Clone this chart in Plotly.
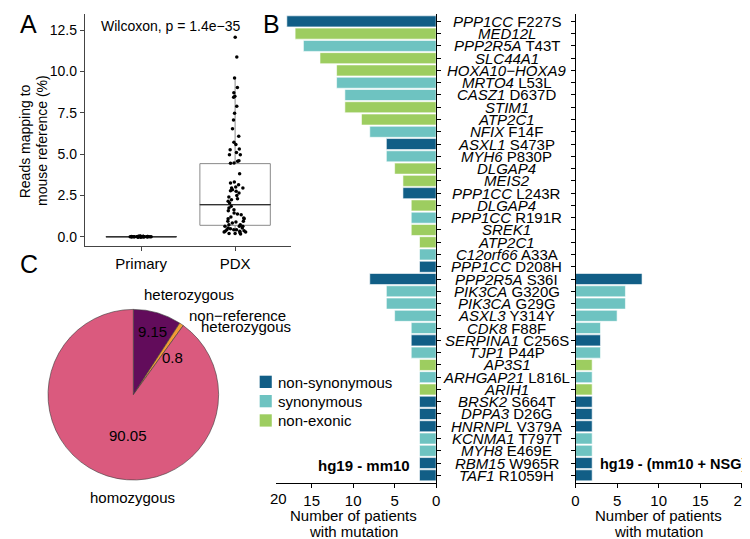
import plotly.graph_objects as go

W, H = 750, 539
FONT = "Liberation Sans, Arial, sans-serif"

# ---------------- Panel A data ----------------
groups = ["Primary", "PDX"]
primary_pct = [0.0, 0.01, 0.0, 0.02, 0.0, 0.01, 0.0, 0.0, 0.03, 0.01, 0.0, 0.02,
               0.0, 0.01, 0.0, 0.0, 0.01, 0.02, 0.0, 0.01, 0.0, 0.0, 0.02, 0.01,
               0.0, 0.01, 0.0, 0.03, 0.0, 0.01, 0.0, 0.02, 0.0, 0.01, 0.0, 0.0,
               0.01, 0.0, 0.02, 0.0, 0.01, 0.0, 0.0, 0.01, 0.02, 0.0, 0.01, 0.0]
pdx_pct = [12.06, 10.87, 9.6, 9.03, 8.5, 8.43, 8.71, 7.89, 7.46, 7.06, 6.53, 6.07,
           5.71, 5.57, 5.1, 5.26, 5.3, 4.96, 4.96, 4.56, 4.46, 4.6, 4.44, 3.81,
           3.25, 3.15, 3.0, 2.95, 2.95, 2.84, 2.78, 2.75, 2.64, 2.5, 2.4, 2.3,
           2.14, 2.04, 1.84, 1.74, 1.63, 1.57, 1.43, 1.37, 1.19, 1.13, 1.09, 1.09,
           0.93, 0.89, 0.93, 0.73, 0.73, 0.63, 0.63, 0.63, 0.53, 0.53, 0.42, 0.42,
           0.42, 0.48, 0.28, 0.33, 0.33, 0.28, 0.2, 0.16, 0.2, 0.24, 0.36, 0.83,
           1.33, 2.24, 3.31]
box_q1 = [0.0, 0.69]
box_median = [0.0, 1.94]
box_q3 = [0.0, 4.42]
box_lower = [0.0, 0.16]
box_upper = [0.0, 9.6]
a_yticks = [0.0, 2.5, 5.0, 7.5, 10.0, 12.5]
wilcoxon_label = "Wilcoxon, p = 1.4e\u221235"

# ---------------- Panel B data ----------------
genes = ["PPP1CC", "MED12L", "PPP2R5A", "SLC44A1", "HOXA10\u2212HOXA9", "MRTO4",
         "CASZ1", "STIM1", "ATP2C1", "NFIX", "ASXL1", "MYH6", "DLGAP4", "MEIS2",
         "PPP1CC", "DLGAP4", "PPP1CC", "SREK1", "ATP2C1", "C12orf66", "PPP1CC",
         "PPP2R5A", "PIK3CA", "PIK3CA", "ASXL3", "CDK8", "SERPINA1", "TJP1",
         "AP3S1", "ARHGAP21", "ARIH1", "BRSK2", "DPPA3", "HNRNPL", "KCNMA1",
         "MYH8", "RBM15", "TAF1"]
mutations = ["F227S", "", "T43T", "", "", "L53L", "D637D", "", "", "F14F", "S473P",
             "P830P", "", "", "L243R", "", "R191R", "", "", "A33A", "D208H", "S36I",
             "G320G", "G29G", "Y314Y", "F88F", "C256S", "P44P", "", "L816L", "",
             "S664T", "D26G", "V379A", "T797T", "E469E", "W965R", "R1059H"]
mut_type = ["non-synonymous", "non-exonic", "synonymous", "non-exonic", "non-exonic",
            "synonymous", "synonymous", "non-exonic", "non-exonic", "synonymous",
            "non-synonymous", "synonymous", "non-exonic", "non-exonic", "non-synonymous",
            "non-exonic", "synonymous", "non-exonic", "non-exonic", "synonymous",
            "non-synonymous", "non-synonymous", "synonymous", "synonymous", "synonymous",
            "synonymous", "non-synonymous", "synonymous", "non-exonic", "synonymous",
            "non-exonic", "non-synonymous", "non-synonymous", "non-synonymous",
            "synonymous", "synonymous", "non-synonymous", "non-synonymous"]
n_hg19_mm10 = [18, 17, 16, 14, 12, 12, 11, 11, 9, 8, 6, 6, 5, 4, 4, 3, 3, 3, 2, 2, 2,
               8, 6, 6, 5, 3, 3, 3, 2, 2, 2, 2, 2, 2, 2, 2, 2, 2]
n_hg19_mm10_nsg = [0, 0, 0, 0, 0, 0, 0, 0, 0, 0, 0, 0, 0, 0, 0, 0, 0, 0, 0, 0, 0,
                   8, 6, 6, 5, 3, 3, 3, 2, 2, 2, 2, 2, 2, 2, 2, 2, 2]
type_order = ["non-synonymous", "synonymous", "non-exonic"]
type_colors = {"non-synonymous": "#115E86", "synonymous": "#6EC3C1", "non-exonic": "#9DCD60"}
b_ticks_left = [0, 5, 10, 15]
b_ticks_right = [0, 5, 10, 15, 20]

# ---------------- Panel C data ----------------
geno_labels = ["heterozygous", "non\u2212reference heterozygous", "homozygous"]
geno_pct = [9.15, 0.8, 90.05]
geno_colors = ["#620C5B", "#F29B35", "#DA5A7E"]


def px(x):
    return x / W


def py(y):
    return 1 - y / H


fig = go.Figure()

# ---- Panel A: boxes ----
fig.add_trace(go.Box(
    x=groups, q1=box_q1, median=box_median, q3=box_q3,
    lowerfence=box_lower, upperfence=box_upper,
    boxpoints=False, width=0.75, whiskerwidth=0,
    fillcolor="rgba(0,0,0,0)", line=dict(color="#8a8a8a", width=1),
    xaxis="x", yaxis="y", hoverinfo="skip", showlegend=False))
# darker median line
fig.add_trace(go.Box(
    x=groups, q1=box_median, median=box_median, q3=box_median,
    lowerfence=box_median, upperfence=box_median,
    boxpoints=False, width=0.75, whiskerwidth=0,
    fillcolor="rgba(0,0,0,0)", line=dict(color="#333333", width=1),
    xaxis="x", yaxis="y", hoverinfo="skip", showlegend=False))
# jittered points
fig.add_trace(go.Box(
    x=[groups[0]] * len(primary_pct) + [groups[1]] * len(pdx_pct),
    y=primary_pct + pdx_pct,
    boxpoints="all", jitter=0.32, pointpos=0, width=0.75, whiskerwidth=0,
    fillcolor="rgba(0,0,0,0)", line=dict(color="rgba(0,0,0,0)", width=0),
    marker=dict(color="black", size=3.5),
    xaxis="x", yaxis="y", hoverinfo="skip", showlegend=False))

# ---- Panel B: bars ----
bar_colors = [type_colors[t] for t in mut_type]
rows = list(range(len(genes)))
fig.add_trace(go.Bar(
    x=n_hg19_mm10, y=rows, orientation="h",
    marker=dict(color=bar_colors, line=dict(color="white", width=0.6)),
    xaxis="x2", yaxis="y2", hoverinfo="skip", showlegend=False))
fig.add_trace(go.Bar(
    x=n_hg19_mm10_nsg, y=rows, orientation="h",
    marker=dict(color=bar_colors, line=dict(color="white", width=0.6)),
    xaxis="x3", yaxis="y3", hoverinfo="skip", showlegend=False))

# ---- Panel C: pie ----
fig.add_trace(go.Pie(
    labels=geno_labels, values=geno_pct, sort=False, direction="clockwise", rotation=0,
    marker=dict(colors=geno_colors, line=dict(color="#3a3a3a", width=0.6)),
    textinfo="none", hoverinfo="skip", showlegend=False,
    domain=dict(x=[px(36.6), px(210.0)], y=[py(473.4), py(300.0)])))

axis_common = dict(showgrid=False, zeroline=False, showline=True, ticks="outside", ticklen=4)

ann = []

# gene labels between the two bar panels
for i, (g, m) in enumerate(zip(genes, mutations)):
    txt = f"<i>{g}</i> {m}" if m else f"<i>{g}</i>"
    ann.append(dict(text=txt, x=px(503), xref="paper", y=i, yref="y2",
                    xanchor="center", yanchor="middle", showarrow=False,
                    font=dict(size=15, color="black")))


def add_text(text, x, y, size=15, xanchor="center", yanchor="middle", **kw):
    ann.append(dict(text=text, x=px(x), y=py(y), xref="paper", yref="paper",
                    xanchor=xanchor, yanchor=yanchor, showarrow=False,
                    font=dict(size=size, color="black"), **kw))


# panel letters
add_text("A", 17, 16, size=25)
add_text("B", 264, 16, size=25)
add_text("C", 17, 256, size=25)

# panel A texts
add_text(wilcoxon_label, 162, 18, size=14)
add_text("Reads mapping to", 13.5, 133, size=14, textangle=-90)
add_text("mouse reference (%)", 30.5, 133, size=14, textangle=-90)

# panel B texts
add_text("<b>hg19 - mm10</b>", 406, 457, xanchor="right")
add_text("<b>hg19 - (mm10 + NSG)</b>", 747.5, 456, size=14.5, xanchor="right")
add_text("20", 271, 490.5)
for cx in (347.5, 657):
    add_text("Number of patients", cx, 507)
    add_text("with mutation", cx, 523)

# legend
sw_top = [367.7, 387.0, 406.3]
shapes = []
for t, top in zip(type_order, sw_top):
    shapes.append(dict(type="rect", xref="paper", yref="paper",
                       x0=px(251.7), x1=px(264), y0=py(top + 12.3), y1=py(top),
                       fillcolor=type_colors[t], line=dict(width=0)))
    add_text(t, 268, top + 6.3, xanchor="left")

# pie labels
add_text("9.15", 143, 323)
add_text("0.8", 163, 349)
add_text("90.05", 118, 427)
add_text("heterozygous", 180, 286)
add_text("non\u2212reference", 229, 307)
add_text("heterozygous", 238, 318.5)
add_text("homozygous", 122, 489)

nrow = len(genes)
fig.update_layout(
    width=W, height=H, margin=dict(l=0, r=0, t=0, b=0),
    paper_bgcolor="white", plot_bgcolor="rgba(0,0,0,0)",
    font=dict(family=FONT, size=15, color="black"),
    boxmode="overlay", bargap=0.1,
    xaxis=dict(domain=[px(74), px(284)], anchor="y", type="category",
               categoryorder="array", categoryarray=groups, range=[-0.6, 1.6],
               linecolor="#444", tickcolor="#444", tickfont=dict(size=15), **axis_common),
    yaxis=dict(domain=[py(238.3), py(6)], anchor="x", range=[-0.58, 13.47],
               tickvals=a_yticks, ticktext=[f"{v:.1f}" for v in a_yticks],
               linecolor="#444", tickcolor="#444", tickfont=dict(size=14), **axis_common),
    xaxis2=dict(domain=[px(268.5), px(431)], anchor="y2", range=[19.28, 0],
                tickvals=b_ticks_left, linecolor="black", tickcolor="black",
                tickfont=dict(size=15), **axis_common),
    yaxis2=dict(domain=[py(474.7), py(6)], anchor="x2", side="right",
                range=[nrow - 0.4, -0.6], tickvals=rows, showticklabels=False,
                linecolor="black", tickcolor="black", **axis_common),
    xaxis3=dict(domain=[px(572.7), px(741.7)], anchor="y3", range=[0, 20],
                tickvals=b_ticks_right, linecolor="black", tickcolor="black",
                tickfont=dict(size=15), **axis_common),
    yaxis3=dict(domain=[py(474.7), py(6)], anchor="x3", side="left",
                range=[nrow - 0.4, -0.6], tickvals=rows, showticklabels=False,
                linecolor="black", tickcolor="black", **axis_common),
    annotations=ann, shapes=shapes,
)

fig.write_html("out.html")
